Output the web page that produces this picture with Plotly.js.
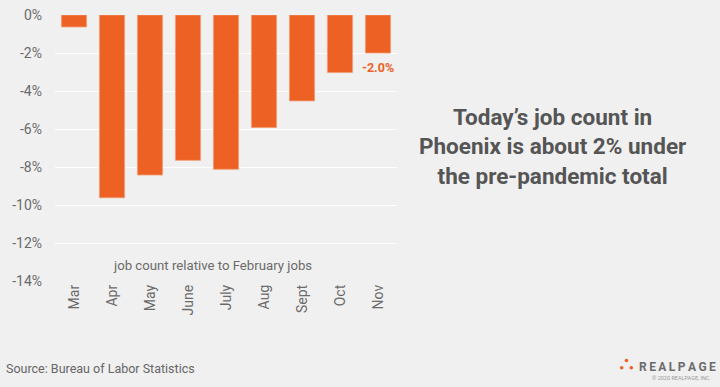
<!DOCTYPE html>
<html>
<head>
<meta charset="utf-8">
<script src="https://cdn.plot.ly/plotly-3.0.1.min.js"></script>
<style>
html,body{margin:0;padding:0;background:#f0f0f0;}
#chart{width:720px;height:387px;}
</style>
</head>
<body>
<div id="chart"></div>
<script>
const months = ["Mar","Apr","May","June","July","Aug","Sept","Oct","Nov"];
const jobChange = [-0.63, -9.62, -8.42, -7.65, -8.12, -5.92, -4.52, -3.03, -2.0];
const yTickVals = [0, -2, -4, -6, -8, -10, -12, -14];
const yTickText = ["0%", "-2%", "-4%", "-6%", "-8%", "-10%", "-12%", "-14%"];
const lastLabel = "-2.0%";
const headline = "Today’s job count in<br>Phoenix is about 2% under<br>the pre-pandemic total";
const noteText = "job count relative to February jobs";
const sourceText = "Source: Bureau of Labor Statistics";

const orange = "#ee6124";
const font = "Roboto, 'Open Sans', sans-serif";

const trace = {
  type: "bar",
  x: months,
  y: jobChange,
  marker: {color: orange, line: {color: "#f39a6e", width: 0.8}},
  hoverinfo: "skip"
};

const W = 720, H = 387;
const m = {l: 55, r: 323, t: 15, b: 106};
const pw = W - m.l - m.r, ph = H - m.t - m.b;
function px(x){ return (x - m.l) / pw; }
function py(y){ return (H - m.b - y) / ph; }

const layout = {
  width: W, height: H,
  paper_bgcolor: "#f0f0f0",
  plot_bgcolor: "#f0f0f0",
  margin: m,
  bargap: 0.34,
  showlegend: false,
  font: {family: font, color: "#6b6b6b", size: 14},
  xaxis: {
    type: "category",
    tickangle: -90,
    showgrid: false,
    zeroline: false,
    showline: false,
    ticks: "",
    tickfont: {size: 14, color: "#6b6b6b"},
    fixedrange: true
  },
  yaxis: {
    range: [-14, 0],
    tickvals: yTickVals,
    ticktext: yTickText,
    showgrid: true,
    gridcolor: "#ffffff",
    gridwidth: 1,
    zeroline: false,
    showline: false,
    ticks: "",
    ticklabelstandoff: 12,
    tickfont: {size: 14, color: "#6b6b6b"},
    fixedrange: true
  },
  annotations: [
    {x: months[months.length-1], y: jobChange[jobChange.length-1], xref: "x", yref: "y",
     text: "<b>" + lastLabel + "</b>", showarrow: false, yanchor: "top", xanchor: "center", yshift: -5,
     font: {size: 12.5, color: orange, family: font}},
    {x: px(212.5), y: py(265.5), xref: "paper", yref: "paper", text: noteText, showarrow: false,
     xanchor: "center", yanchor: "middle",
     font: {size: 13.2, color: "#6b6b6b", family: font}},
    {x: px(552.5), y: py(146.5), xref: "paper", yref: "paper", text: "<b>" + headline + "</b>", showarrow: false,
     xanchor: "center", yanchor: "middle",
     font: {size: 22.5, color: "#555555", family: font}, align: "center"},
    {x: px(4), y: py(368), xref: "paper", yref: "paper", text: sourceText, showarrow: false,
     xanchor: "left", yanchor: "middle",
     font: {size: 12.5, color: "#666666", family: font}},
    {x: px(637), y: py(367), xref: "paper", yref: "paper",
     text: "<b>R\u2009E\u2009A\u2009L\u2009P\u2009A\u2009G\u2009E</b>", showarrow: false,
     xanchor: "left", yanchor: "middle",
     font: {size: 12, color: "#6b6b6b", family: font}},
    {x: px(713), y: py(378), xref: "paper", yref: "paper", text: "© 2020 REALPAGE, INC.", showarrow: false,
     xanchor: "right", yanchor: "middle",
     font: {size: 5.5, color: "#9a9a9a", family: font}}
  ]
};

const dots = [[626.5, 360.5], [621.7, 367.7], [631.3, 367.7]];
layout.shapes = dots.map(d => ({
  type: "circle", xref: "paper", yref: "paper",
  x0: px(d[0]-1.8), x1: px(d[0]+1.8), y0: py(d[1]+1.8), y1: py(d[1]-1.8),
  fillcolor: orange, line: {width: 0}
}));

Plotly.newPlot("chart", [trace], layout, {displayModeBar: false, staticPlot: true});
</script>
</body>
</html>
